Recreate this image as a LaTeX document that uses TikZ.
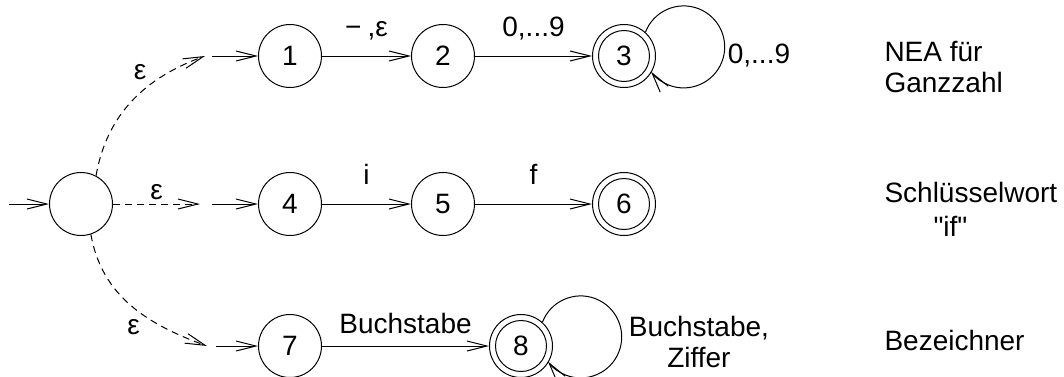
\documentclass[tikz,border=0pt]{standalone}
\usepackage{fontspec}
\setmainfont{Liberation Sans}
\usetikzlibrary{arrows.meta,positioning}

\begin{document}
\begin{tikzpicture}[x=1pt,y=1pt,line width=1pt,
  font=\fontsize{28}{31}\selectfont,
  >={Straight Barb[length=20pt,width=10pt]},
  state/.style={draw,circle,minimum size=63pt,inner sep=0pt},
  final/.style={state,path picture={\draw (path picture bounding box.center) circle[radius=25.5pt];}},
  eps/.style={->,dash pattern=on 7pt off 5pt},
  lab/.style={midway,anchor=base,yshift=20pt},
  note/.style={align=left,inner sep=0pt,anchor=north west}]
\useasboundingbox (0,0) rectangle (1064,376);
% states
\node[state] (n1) at (290,320) {1};
\node[state] (n2) [right=89pt of n1] {2};
\node[final] (n3) [right=117pt of n2] {3};
\node[state] (n4) [below=84pt of n1] {4};
\node[state] (n5) [right=89pt of n4] {5};
\node[final] (n6) [right=117pt of n5] {6};
\node[state] (n7) [below=78pt of n4] {7};
\node[final] (n8) [right=167pt of n7] {8};
\node[state] (s) [left=145pt of n4] {};
% ends of the epsilon arrows
\coordinate[left=40pt of s] (in);
\coordinate[left=53pt of n1] (e1);
\coordinate[left=46pt of n1] (f1);
\coordinate[left=58pt of n4] (e4);
\coordinate[left=46pt of n4] (f4);
\coordinate[left=51pt of n7] (e7);
\coordinate[left=42pt of n7] (f7);
% start
\draw[->] (in) -- (s);
\draw[eps] (s.62) to[out=80,in=200] node[pos=.6,above left,xshift=6pt,yshift=6pt]{ε} (e1);
\draw[->] (f1) -- (n1);
\draw[eps] (s) -- node[above]{ε} (e4);
\draw[->] (f4) -- (n4);
\draw[eps] (s.-72) to[out=-80,in=160] node[pos=.6,below left]{ε} (e7);
\draw[->] (f7) -- (n7);
% transitions
\draw[->] (n1) -- node[lab]{−\hspace{6pt},ε} (n2);
\draw[->] (n2) -- node[lab]{0,...9} (n3);
\draw[->] (n3.48) arc[start angle=159,end angle=-143,radius=41];
\node (l3) [right=68pt of n3] {0,...9};
\draw[->] (n4) -- node[lab]{i} (n5);
\draw[->] (n5) -- node[lab]{f} (n6);
\draw[->] (n7) -- node[lab,yshift=-7pt]{Buchstabe} (n8);
\draw[->] (n8.48) arc[start angle=159,end angle=-143,radius=41];
\node[align=center] (l8) [right=72pt of n8,yshift=4pt] {Buchstabe,\\Ziffer};
% notes
\node[note] (t1) at (884,335) {NEA für\\Ganzzahl};
\node[note] (t2) at (884,194) {Schlüsselwort\\[3pt]\hspace{49pt}\textquotedbl if\textquotedbl};
\node[note] (t3) at (884,46) {Bezeichner};
\end{tikzpicture}
\end{document}
